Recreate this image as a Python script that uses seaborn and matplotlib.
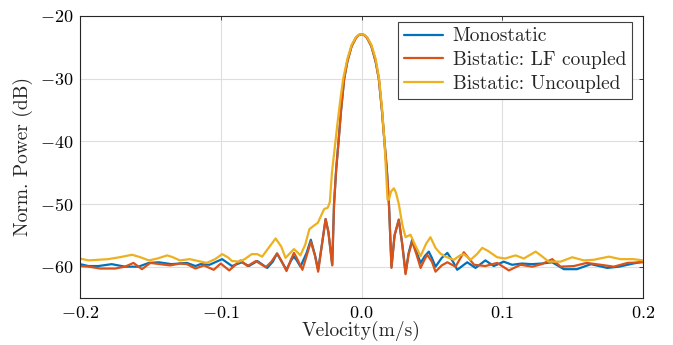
import numpy as np
import pandas as pd
import matplotlib
matplotlib.use("Agg")
import matplotlib.pyplot as plt
import seaborn as sns

# ---- data ----
series_names = ["Monostatic", "Bistatic: LF coupled", "Bistatic: Uncoupled"]
colors = ["#0072BD", "#D95319", "#EDB120"]

mono_v = [-0.200, -0.194, -0.187, -0.1775, -0.168, -0.1585, -0.151, -0.144, -0.135, -0.124,
          -0.118, -0.1144, -0.108, -0.099, -0.092, -0.085, -0.080, -0.074, -0.067, -0.063,
          -0.060, -0.057, -0.0533, -0.050, -0.048, -0.046, -0.0434, -0.039, -0.036, -0.033,
          -0.0308, -0.028, -0.0255, -0.0235, -0.0208, -0.0195, -0.018, -0.0163, -0.0145, -0.0123,
          -0.010, -0.007, -0.004, -0.002, 0.0, 0.002, 0.004, 0.007, 0.010, 0.0123, 0.0145, 0.0163,
          0.018, 0.0195, 0.0213, 0.0235, 0.0265, 0.029, 0.0313, 0.0335, 0.036, 0.039,
          0.042, 0.045, 0.0478, 0.050, 0.0526, 0.057, 0.061, 0.065, 0.068, 0.0751,
          0.081, 0.088, 0.094, 0.101, 0.107, 0.114, 0.121, 0.128, 0.1355, 0.1438,
          0.153, 0.163, 0.1746, 0.183, 0.193, 0.200]
mono_db = [-59.6, -59.9, -59.9, -59.6, -60.0, -60.0, -59.4, -59.3, -59.6, -59.4,
           -59.9, -59.6, -59.7, -58.8, -59.9, -59.3, -59.9, -59.1, -60.2, -59.2,
           -57.9, -59.1, -60.5, -59.0, -58.4, -59.0, -60.0, -57.8, -55.7, -58.2,
           -60.5, -56.3, -52.4, -54.5, -59.7, -50.0, -44.5, -40.0, -35.0, -30.0,
           -27.2, -24.8, -23.5, -23.05, -22.9, -23.05, -23.5, -24.8, -27.2, -30.0, -35.0, -40.0,
           -44.5, -50.0, -60.0, -55.0, -52.5, -56.5, -61.0, -57.8, -55.7, -57.6,
           -59.4, -58.3, -57.6, -58.6, -60.0, -58.6, -57.8, -59.2, -60.5, -59.3,
           -60.2, -59.0, -59.9, -59.2, -59.7, -59.5, -59.6, -59.5, -59.3, -60.4,
           -60.4, -59.6, -60.2, -60.0, -59.5, -59.2]

lf_v = [-0.200, -0.194, -0.1855, -0.175, -0.168, -0.162, -0.156, -0.150, -0.143, -0.136,
        -0.129, -0.124, -0.118, -0.112, -0.105, -0.100, -0.094, -0.090, -0.086, -0.081,
        -0.075, -0.068, -0.064, -0.060, -0.057, -0.0533, -0.050, -0.048, -0.046, -0.042,
        -0.039, -0.036, -0.033, -0.0308, -0.028, -0.0255, -0.0235, -0.0208, -0.0195, -0.018,
        -0.0163, -0.0145, -0.0123, -0.010, -0.007, -0.004, -0.002, 0.0, 0.002, 0.004, 0.007, 0.010,
        0.0123, 0.0145, 0.0163, 0.018, 0.0195, 0.0213, 0.0235, 0.0265, 0.029, 0.0313,
        0.0335, 0.036, 0.039, 0.042, 0.0445, 0.0467, 0.050, 0.0526, 0.057, 0.061,
        0.0668, 0.0727, 0.080, 0.088, 0.0964, 0.1047, 0.113, 0.1213, 0.128, 0.1355,
        0.1414, 0.151, 0.160, 0.170, 0.1793, 0.189, 0.200]
lf_db = [-59.9, -60.0, -60.3, -60.3, -60.0, -59.4, -60.4, -59.4, -59.6, -59.8,
         -59.5, -59.6, -60.3, -59.8, -60.5, -59.5, -60.6, -59.8, -59.0, -59.9,
         -59.1, -60.1, -59.2, -57.9, -59.0, -60.7, -58.8, -57.8, -58.6, -60.5,
         -58.3, -56.0, -58.3, -60.8, -56.3, -52.4, -54.5, -59.8, -50.0, -44.5,
         -40.0, -35.0, -30.0, -27.2, -24.8, -23.5, -23.05, -22.9, -23.05, -23.5, -24.8, -27.2,
         -30.0, -35.0, -40.0, -44.5, -50.0, -60.2, -55.0, -52.5, -56.5, -61.2,
         -58.0, -56.0, -58.0, -60.2, -59.0, -58.1, -59.2, -60.8, -59.8, -59.3,
         -60.0, -57.7, -59.7, -59.9, -59.4, -60.6, -59.7, -60.0, -59.6, -58.8,
         -60.0, -59.9, -59.4, -59.7, -60.0, -59.4, -59.3]

unc_v = [-0.200, -0.194, -0.187, -0.180, -0.172, -0.163, -0.157, -0.151, -0.145, -0.138,
         -0.134, -0.129, -0.122, -0.116, -0.110, -0.104, -0.099, -0.095, -0.092, -0.087,
         -0.083, -0.078, -0.074, -0.0706, -0.066, -0.061, -0.057, -0.054, -0.051, -0.048,
         -0.046, -0.0434, -0.040, -0.037, -0.0335, -0.031, -0.029, -0.0265, -0.024, -0.0225,
         -0.021, -0.0195, -0.0185, -0.017, -0.015, -0.013, -0.010, -0.007, -0.004, -0.002, 0.0,
         0.002, 0.004, 0.007, 0.010, 0.0125, 0.0145, 0.0163, 0.0185, 0.0195, 0.021, 0.023,
         0.0245, 0.0265, 0.029, 0.0313, 0.0348, 0.038, 0.042, 0.046, 0.049, 0.0526,
         0.056, 0.0597, 0.0656, 0.070, 0.0727, 0.0775, 0.082, 0.0858, 0.090, 0.0964,
         0.102, 0.1095, 0.1153, 0.1237, 0.128, 0.133, 0.1414, 0.1497, 0.158, 0.165,
         0.1758, 0.184, 0.193, 0.200]
unc_db = [-58.7, -59.0, -58.9, -58.8, -58.5, -58.1, -58.5, -59.0, -58.7, -58.2,
          -58.5, -59.0, -58.8, -59.1, -59.4, -58.8, -58.0, -58.5, -59.1, -59.2,
          -58.8, -58.0, -58.0, -58.4, -57.0, -55.5, -56.8, -58.6, -57.9, -57.2,
          -57.6, -58.2, -56.5, -54.0, -53.4, -53.0, -52.0, -50.8, -50.6, -49.7,
          -45.0, -42.0, -40.0, -37.0, -33.3, -30.0, -26.8, -24.6, -23.4, -23.0, -22.9,
          -23.0, -23.4, -24.6, -26.8, -30.0, -34.5, -40.0, -49.3, -49.3, -48.0, -47.5,
          -48.2, -50.0, -53.3, -55.3, -54.9, -56.5, -58.3, -56.3, -55.3, -57.0,
          -57.9, -58.4, -58.9, -58.2, -58.0, -58.9, -58.0, -57.0, -57.5, -58.5,
          -58.7, -58.2, -58.7, -57.6, -58.3, -59.2, -59.2, -58.5, -59.0, -58.9,
          -58.4, -58.8, -58.8, -59.0]

x_ticks = [-0.2, -0.1, 0.0, 0.1, 0.2]
y_ticks = [-60, -50, -40, -30, -20]

# ---- build long table ----
frames = []
for name, v, d in zip(series_names, [mono_v, lf_v, unc_v], [mono_db, lf_db, unc_db]):
    frames.append(pd.DataFrame({"v": v, "db": d, "series": name}))
df = pd.concat(frames, ignore_index=True)

sns.set_style("white")
plt.rcParams["font.family"] = "serif"
plt.rcParams["font.serif"] = ["cmr10", "DejaVu Serif"]
plt.rcParams["mathtext.fontset"] = "cm"
plt.rcParams["axes.formatter.use_mathtext"] = True
plt.rcParams["axes.unicode_minus"] = True

fig = plt.figure(figsize=(6.73, 3.45), dpi=100)
ax = fig.add_axes([80 / 673, 1 - 298 / 345, (643 - 80) / 673, (298 - 16) / 345])

sns.lineplot(data=df, x="v", y="db", hue="series", hue_order=series_names,
             palette=colors, estimator=None, sort=True, linewidth=1.6, ax=ax)

ax.set_xlim(-0.2, 0.2)
ax.set_ylim(-65, -20)
ax.set_xticks(x_ticks)
ax.set_yticks(y_ticks)
ax.grid(True, color="#dedede", linewidth=0.8)
ax.set_axisbelow(True)
for s in ax.spines.values():
    s.set_visible(True)
    s.set_color("#262626")
    s.set_linewidth(0.8)
ax.tick_params(direction="in", length=3, width=0.6, labelsize=13, colors="#262626",
               top=True, right=True, labelcolor="black", pad=5)
ax.set_xlabel("Velocity(m/s)", fontsize=14, labelpad=0)
ax.set_ylabel("Norm. Power (dB)", fontsize=14, labelpad=5)

handles, labels = ax.get_legend_handles_labels()
leg = ax.legend(handles, labels, loc="upper right", fontsize=14, frameon=True,
                fancybox=False, framealpha=1, edgecolor="#404040",
                handlelength=2.0, handletextpad=0.5, borderpad=0.3,
                labelspacing=0.3, borderaxespad=0.0, bbox_to_anchor=(0.98, 0.98))
leg.get_frame().set_linewidth(0.8)

fig.savefig("out.png", dpi=100)
